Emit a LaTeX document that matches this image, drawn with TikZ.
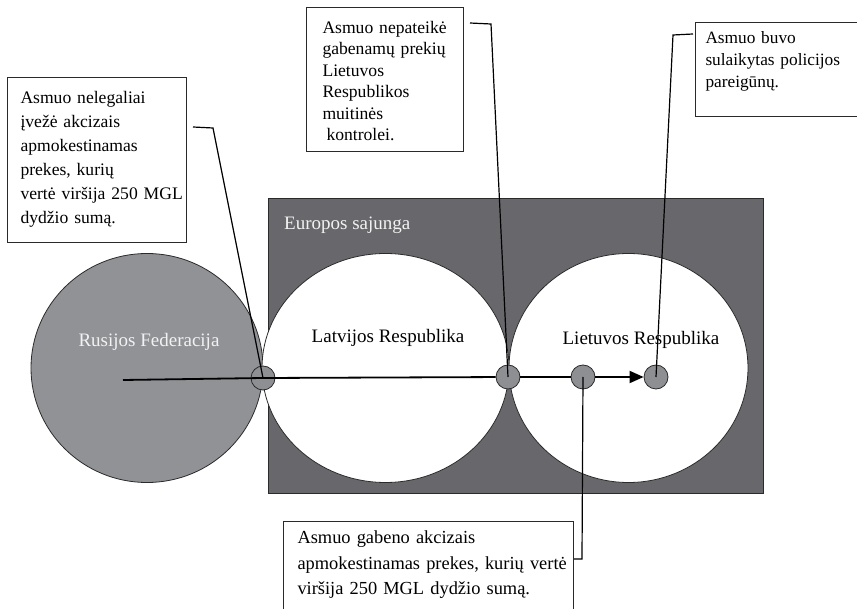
\documentclass[tikz,border=0pt]{standalone}
\usepackage{fontspec}
\setmainfont{Liberation Serif}
\usetikzlibrary{arrows.meta}
\definecolor{eugray}{HTML}{68686C}
\definecolor{rugray}{HTML}{919296}
\definecolor{ptgray}{HTML}{8E8F93}
\definecolor{edge}{HTML}{2A2A2A}
\definecolor{paletext}{HTML}{F2F2F2}

\begin{document}
\begin{tikzpicture}[x=1pt, y=-1pt,
    region/.style={draw=edge, line width=0.8pt},
    place/.style={inner sep=0pt, font=\fontsize{19}{22}\selectfont},
    point/.style={circle, draw=edge, fill=ptgray, line width=0.8pt, inner sep=0pt, minimum size=24pt},
    note/.style={draw=edge, fill=white, line width=1pt, align=left, anchor=north west,
        inner xsep=2pt, inner ysep=0pt, execute at begin node={\leftskip=#1\relax}},
    flow/.style={line width=1.8pt},
    leader/.style={line width=1.2pt}]
\path[use as bounding box, clip] (0,0) rectangle (857,609);

% Europos sajunga
\filldraw[fill=eugray, draw=edge, line width=1pt] (268,199) rectangle (763,493);
\node[place, text=paletext, anchor=west] (eu) at (284,225) {Europos sajunga};

\filldraw[region, fill=rugray] (147,368) ellipse [x radius=116pt, y radius=114.5pt];
\filldraw[region, fill=white] (385.5,368) ellipse [x radius=123.5pt, y radius=114.5pt];
\filldraw[region, fill=white] (628.5,368) ellipse [x radius=119.5pt, y radius=114.5pt];

\node[place, text=paletext] (ru) at (149,342) {Rusijos Federacija};
\node[place] (lv) at (388,338) {Latvijos Respublika};
\node[place] (lt) at (641,340) {Lietuvos Respublika};

% kelias
\node[point] (p1) at (263,378) {};
\node[point] (p2) at (508,377) {};
\node[point] (p3) at (583,377) {};
\node[point] (p4) at (656,377) {};
\coordinate (start) at (123,380);

\draw[flow] (start) -- (p1.center) -- (p2);
\draw[flow] (p2) -- (p3);
\draw[flow, -{Triangle[length=14pt, width=12pt]}] (p3) -- (p4);

% aprasymai
\node[note=11pt, text width=175pt, text height=26pt, text depth=139pt,
    font=\fontsize{17.6}{24}\selectfont] (box1) at (7,77)
    {Asmuo nelegaliai\\ įvežė akcizais\\ apmokestinamas\\ prekes, kurių\\ \mbox{vertė viršija 250 MGL}\\ dydžio sumą.};
\node[note=14pt, text width=153pt, text height=26pt, text depth=118pt,
    font=\fontsize{17.6}{21.4}\selectfont] (box2) at (306,7)
    {Asmuo nepateikė\\ gabenamų prekių\\ Lietuvos\\ Respublikos\\ muitinės\\ \hspace*{4pt}kontrolei.};
\node[note=8pt, text width=171pt, text height=20.7pt, text depth=73.3pt,
    font=\fontsize{17.3}{22}\selectfont] (box3) at (695,22)
    {Asmuo buvo\\ sulaikytas policijos\\ pareigūnų.};
\node[note=12pt, text width=286pt, text height=22pt, text depth=100pt,
    font=\fontsize{18.4}{25.5}\selectfont] (box4) at (283,521)
    {Asmuo gabeno akcizais\\ apmokestinamas prekes, kurių vertė\\ viršija 250 MGL dydžio sumą.};

\coordinate (s1) at (193,127);
\coordinate (k1) at (213,128);
\coordinate (s2) at (470,23);
\coordinate (k2) at (491,24);
\coordinate (s3) at (693,34);
\coordinate (k3) at (673,35);
\coordinate (k4) at (582,559);

\draw[leader] (s1) -- (k1) -- (p1.center);
\draw[leader] (s2) -- (k2) -- (p2.center);
\draw[leader] (s3) -- (k3) -- (p4.center);
\draw[leader] (box4.east |- k4) -- (k4) -- (p3.center);
\end{tikzpicture}
\end{document}
